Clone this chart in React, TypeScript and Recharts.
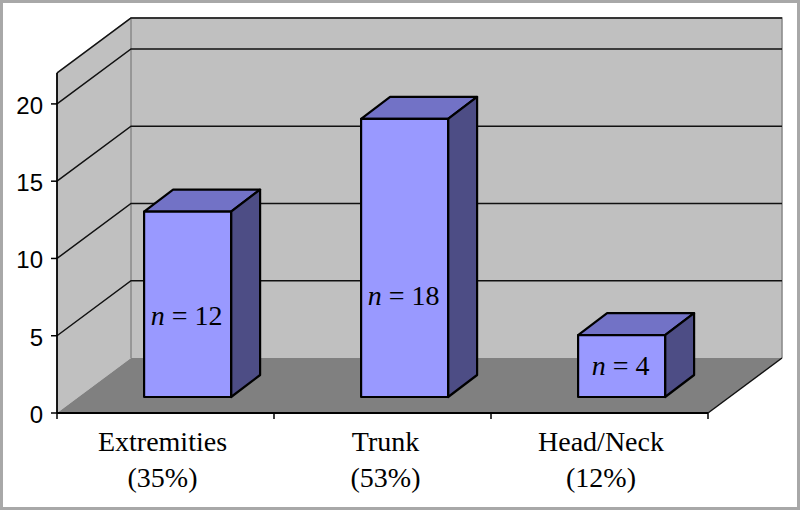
import { BarChart, Bar, XAxis, YAxis, CartesianGrid, LabelList } from 'recharts';

const CATEGORIES = ['Extremities', 'Trunk', 'Head/Neck'];
const SHARES = ['(35%)', '(53%)', '(12%)'];
const COUNTS = [12, 18, 4];
const Y_TICKS = [0, 5, 10, 15, 20];

// hand placed text boxes in the original, they don't sit at the bar centre
const LABEL_NUDGE = [12, 38, 0];
const CATEGORY_NUDGE = [-3, 3, 1.5];

const WIDTH = 800;
const HEIGHT = 510;
const LEFT = 57;
const RIGHT = 708;
const TOP = 73;
const BOTTOM = 413;

// depth of the fake 3D box, and of each bar inside it
const DEPTH_X = 74;
const DEPTH_Y = -55;
const BAR_SHIFT_X = 22;
const BAR_SHIFT_Y = -16;
const BAR_DX = 29;
const BAR_DY = -22;

const WALL = '#C0C0C0';
const WALL_EDGE = '#8C8C8C';
const FLOOR = '#808080';
const FRONT = '#9999FF';
const TOP_FACE = '#7272C6';
const SIDE = '#4D4D85';
const SERIF = '"Liberation Serif", serif';
const SANS = '"Liberation Sans", sans-serif';

const data = CATEGORIES.map((name, i) => ({ name, count: COUNTS[i] }));
const bandWidth = (RIGHT - LEFT) / CATEGORIES.length;

const pts = (list: number[][]) => list.map((p) => p.join(',')).join(' ');

// sits in its own svg behind the chart, the grid layer would end up under it otherwise
function Walls() {
  const bx = LEFT + DEPTH_X;
  const rx = RIGHT + DEPTH_X;
  const ty = TOP + DEPTH_Y;
  const by = BOTTOM + DEPTH_Y;
  return (
    <svg width={WIDTH} height={HEIGHT} style={{ position: 'absolute', left: 0, top: 0 }}>
      <rect x={bx} y={ty} width={RIGHT - LEFT} height={BOTTOM - TOP} fill={WALL} />
      <polygon points={pts([[LEFT, TOP], [bx, ty], [bx, by], [LEFT, BOTTOM]])} fill={WALL} />
      <polygon points={pts([[LEFT, BOTTOM], [RIGHT, BOTTOM], [rx, by], [bx, by]])} fill={FLOOR} />
      <polyline points={pts([[LEFT, TOP], [bx, ty], [rx, ty], [rx, by]])} fill="none" stroke={WALL_EDGE} strokeWidth={1.6} />
      <line x1={bx} y1={ty} x2={bx} y2={by} stroke={WALL_EDGE} strokeWidth={1.6} />
      <line x1={RIGHT} y1={BOTTOM} x2={rx} y2={by} stroke="#111" strokeWidth={1.5} />
    </svg>
  );
}

function GridLine(props: any) {
  const { x1, x2, y1 } = props;
  if (y1 >= BOTTOM - 1) return null;
  return (
    <polyline
      points={pts([[x1, y1], [x1 + DEPTH_X, y1 + DEPTH_Y], [x2 + DEPTH_X, y1 + DEPTH_Y]])}
      fill="none"
      stroke="#111"
      strokeWidth={1.5}
    />
  );
}

function Bar3D(props: any) {
  const { x, y, width, height } = props;
  const l = x + BAR_SHIFT_X;
  const r = l + width;
  const t = y + BAR_SHIFT_Y;
  const b = t + height;
  return (
    <g stroke="#000" strokeWidth={2.2} strokeLinejoin="round">
      <polygon points={pts([[l, t], [r, t], [r + BAR_DX, t + BAR_DY], [l + BAR_DX, t + BAR_DY]])} fill={TOP_FACE} />
      <polygon points={pts([[r, t], [r + BAR_DX, t + BAR_DY], [r + BAR_DX, b + BAR_DY], [r, b]])} fill={SIDE} />
      <rect x={l} y={t} width={width} height={height} fill={FRONT} />
    </g>
  );
}

function BarLabel(props: any) {
  const { x, y, width, height, value, index } = props;
  return (
    <text
      x={x + BAR_SHIFT_X + width / 2 - 1}
      y={y + BAR_SHIFT_Y + height / 2 + LABEL_NUDGE[index] + 9}
      textAnchor="middle"
      fontFamily={SERIF}
      fontSize={28}
      fill="#000"
    >
      <tspan fontStyle="italic">n</tspan> = {value}
    </text>
  );
}

function CategoryTick(props: any) {
  const { x, y, index } = props;
  const left = x - bandWidth / 2;
  const cx = x + CATEGORY_NUDGE[index];
  return (
    <g>
      <line x1={left} y1={BOTTOM} x2={left} y2={BOTTOM + 6} stroke="#000" strokeWidth={1.5} />
      {index === CATEGORIES.length - 1 && (
        <line x1={x + bandWidth / 2} y1={BOTTOM} x2={x + bandWidth / 2} y2={BOTTOM + 6} stroke="#000" strokeWidth={1.5} />
      )}
      <text x={cx} textAnchor="middle" fontFamily={SERIF} fontSize={28} fill="#000">
        <tspan x={cx} y={y + 30}>{CATEGORIES[index]}</tspan>
        <tspan x={cx} y={y + 66}>{SHARES[index]}</tspan>
      </text>
    </g>
  );
}

export default function App() {
  return (
    <div
      style={{
        position: 'absolute',
        left: 0,
        top: 0,
        width: WIDTH,
        height: HEIGHT,
        background: '#fff',
        outline: '3px solid #A8A8A8',
        outlineOffset: -3,
      }}
    >
      <Walls />
      <BarChart
        width={WIDTH}
        height={HEIGHT}
        data={data}
        barCategoryGap="30%"
        margin={{ left: 0, right: WIDTH - RIGHT, top: TOP, bottom: 0 }}
      >
        <CartesianGrid horizontal={GridLine} vertical={false} />
        <XAxis
          dataKey="name"
          interval={0}
          height={HEIGHT - BOTTOM}
          tick={CategoryTick}
          tickLine={false}
          axisLine={{ stroke: '#000', strokeWidth: 1.8 }}
        />
        <YAxis
          width={LEFT}
          domain={[0, 22]}
          ticks={Y_TICKS}
          interval={0}
          tickSize={6}
          tickMargin={8}
          tick={{ fill: '#000', fontSize: 24, fontFamily: SANS, dy: 1.5 }}
          tickLine={{ stroke: '#000', strokeWidth: 1.5 }}
          axisLine={{ stroke: '#000', strokeWidth: 1.8 }}
        />
        <Bar dataKey="count" shape={Bar3D} isAnimationActive={false}>
          <LabelList dataKey="count" content={BarLabel} />
        </Bar>
      </BarChart>
    </div>
  );
}
